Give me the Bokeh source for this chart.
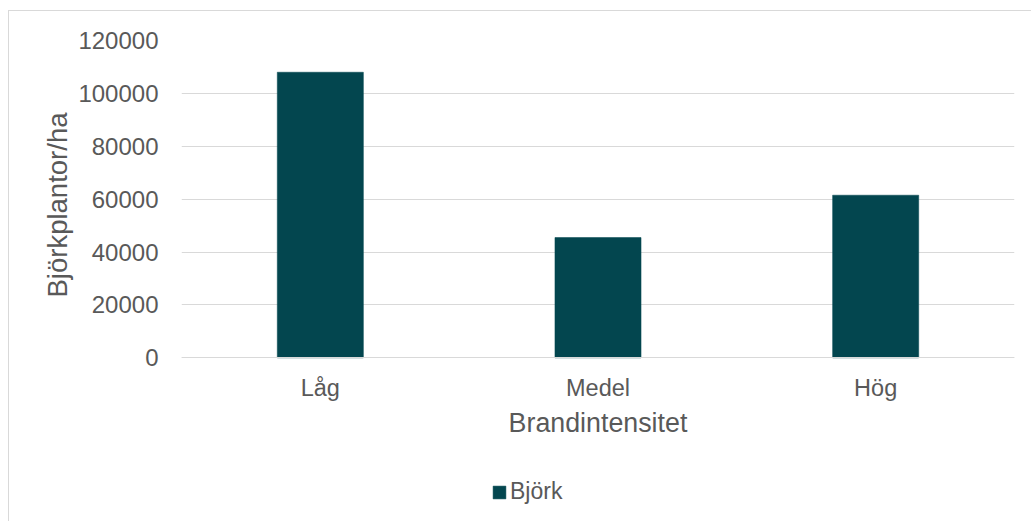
from bokeh.plotting import figure
from bokeh.models import ColumnDataSource, Legend, LegendItem, FixedTicker, Title
from bokeh.embed import file_html
from bokeh.resources import INLINE

# Birch seedlings per hectare by fire intensity
categories = ["Låg", "Medel", "Hög"]
bjork = [108000, 45500, 61500]
y_ticks = [0, 20000, 40000, 60000, 80000, 100000, 120000]

FONT = "Liberation Sans"
TEXT = "#595959"
GRID = "#d9d9d9"
BAR = "#03464F"

source = ColumnDataSource(data=dict(cat=categories, val=bjork))

# The plot frame runs down to the bottom edge so that the category axis
# (pinned at y=0) and the legend both live inside it.
PX_PER_20K = 52.78
Y_BOTTOM = -164.3 / PX_PER_20K * 20000

p = figure(
    x_range=categories,
    y_range=(Y_BOTTOM, 120000),
    width=1023,
    height=511,
    margin=(10, 0, 0, 8),
    output_backend="svg",
    toolbar_location=None,
    min_border_left=172,
    min_border_right=18,
    min_border_top=29,
    min_border_bottom=0,
)
p.styles = {"border-left": f"1px solid {GRID}", "border-top": f"1px solid {GRID}"}
p.x_range.range_padding = 0
p.outline_line_color = None
p.background_fill_color = "white"
p.border_fill_color = "white"

r = p.vbar(x="cat", top="val", width=0.31, source=source,
           fill_color=BAR, line_color=BAR, line_width=0.5)

# value axis
p.yaxis.ticker = FixedTicker(ticks=y_ticks)
p.yaxis.axis_line_color = None
p.yaxis.major_tick_line_color = None
p.yaxis.minor_tick_line_color = None
p.yaxis.major_label_standoff = 17
p.yaxis.major_label_text_font = FONT
p.yaxis.major_label_text_font_size = "24px"
p.yaxis.major_label_text_color = TEXT
p.yaxis.formatter.use_scientific = False

ytitle = Title(text="Björkplantor/ha", align="left", offset=225, standoff=6,
               text_font=FONT, text_font_size="27.5px",
               text_font_style="normal", text_color=TEXT)
p.add_layout(ytitle, "left")

# category axis pinned to the zero line
p.xaxis.fixed_location = 0
p.xaxis.axis_line_color = GRID
p.xaxis.axis_line_width = 1.2
p.xaxis.major_tick_line_color = None
p.xaxis.minor_tick_line_color = None
p.xaxis.major_label_standoff = 11
p.xaxis.major_label_text_font = FONT
p.xaxis.major_label_text_font_size = "23.5px"
p.xaxis.major_label_text_color = TEXT
p.xaxis.axis_label = "Brandintensitet"
p.xaxis.axis_label_text_font = FONT
p.xaxis.axis_label_text_font_size = "26.8px"
p.xaxis.axis_label_text_font_style = "normal"
p.xaxis.axis_label_text_color = TEXT
p.xaxis.axis_label_standoff = 4

p.xgrid.grid_line_color = None
p.ygrid.grid_line_color = GRID
p.ygrid.grid_line_width = 1.2

legend = Legend(items=[LegendItem(label="Björk", renderers=[r])],
                location=(310, 17), orientation="horizontal",
                glyph_width=16, glyph_height=16, label_standoff=3,
                padding=0, margin=0, spacing=0,
                label_text_font=FONT, label_text_font_size="23px",
                label_text_color=TEXT, border_line_color=None,
                background_fill_alpha=0)
p.add_layout(legend, "center")

open("out.html", "w").write(file_html(p, INLINE))
